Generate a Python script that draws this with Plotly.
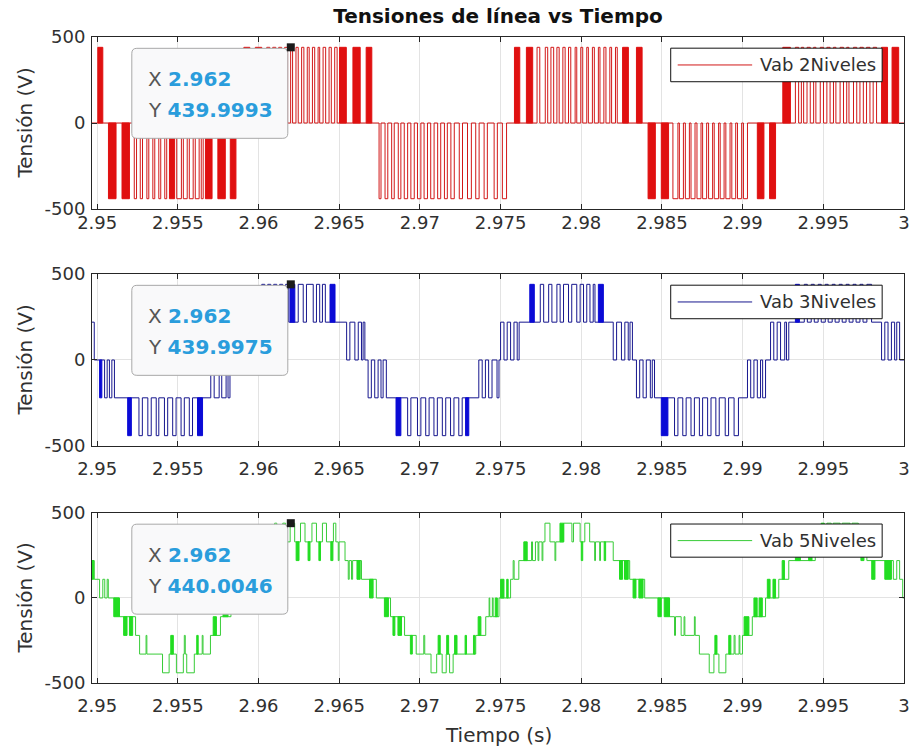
import plotly.graph_objects as go

# ---------------------------------------------------------------------------
# Data: line-to-line voltage Vab of three inverters, 2.9497 s .. 3.0 s
# Edge times are given in milliseconds after T0_S; voltages in volts.
# ---------------------------------------------------------------------------
T0_S = 2.95
SPAN_MS = (-0.32, 50.0)

# Vab 2Niveles: single pulses from 0 V -> (on_ms, off_ms, V)
vab2_start_v = 0
vab2_pulses = [
    (2.30, 2.44, -440), (2.67, 2.81, -440), (3.08, 3.20, -440), (3.45, 3.57, -440),
    (3.82, 3.94, -440), (4.19, 4.31, -440), (4.93, 5.22, -440), (5.34, 5.58, -440),
    (5.71, 5.95, -440), (6.08, 6.32, -440), (6.45, 6.57, -440),
    (10.51, 10.70, 440), (10.88, 11.07, 440), (11.25, 11.43, 440), (11.62, 11.80, 440),
    (11.99, 12.11, 440), (12.32, 12.46, 440), (12.67, 12.81, 440), (13.02, 13.14, 440),
    (13.34, 13.48, 440), (13.69, 13.79, 440), (14.00, 14.16, 440), (14.37, 14.51, 440),
    (14.72, 14.87, 440),
    (17.47, 17.59, -440), (17.84, 18.01, -440), (18.25, 18.41, -440), (18.66, 18.82, -440),
    (19.03, 19.24, -440), (19.44, 19.65, -440), (19.85, 20.06, -440), (20.26, 20.47, -440),
    (20.67, 20.88, -440), (21.10, 21.29, -440), (21.52, 21.70, -440), (21.92, 22.13, -440),
    (22.44, 22.64, -440), (22.95, 23.19, -440), (23.46, 23.67, -440), (23.98, 24.18, -440),
    (24.60, 24.80, -440), (25.11, 25.37, -440),
    (27.26, 27.43, 440), (27.77, 27.92, 440), (28.12, 28.29, 440), (28.49, 28.63, 440),
    (28.86, 29.00, 440), (29.21, 29.35, 440), (29.62, 29.72, 440), (29.97, 30.09, 440),
    (30.34, 30.44, 440), (30.69, 30.81, 440), (31.06, 31.16, 440), (31.40, 31.53, 440),
    (31.77, 31.88, 440), (32.12, 32.23, 440),
    (35.68, 35.99, -440), (36.08, 36.33, -440), (36.45, 36.70, -440), (36.80, 37.05, -440),
    (37.17, 37.42, -440), (37.52, 37.77, -440), (37.89, 38.14, -440), (38.24, 38.51, -440),
    (38.61, 38.85, -440), (38.96, 39.22, -440), (39.33, 39.57, -440), (39.68, 39.94, -440),
    (40.05, 40.30, -440),
    (43.27, 43.47, 440), (43.64, 43.78, 440), (43.99, 44.19, 440), (44.40, 44.54, 440),
    (44.81, 45.01, 440), (45.22, 45.42, 440), (45.63, 45.78, 440), (46.04, 46.25, 440),
    (46.45, 46.59, 440), (46.87, 47.07, 440), (47.27, 47.48, 440), (47.68, 47.89, 440),
    (48.09, 48.30, 440),
]
# dense switching bursts (too fast to resolve): (on_ms, off_ms, V), base 0 V
vab2_bursts = [
    (0.04, 0.35, 440), (0.70, 1.17, -440), (1.54, 2.00, -440), (4.48, 4.80, -440),
    (6.71, 7.12, -440), (7.48, 7.94, -440), (8.25, 8.60, -440), (9.09, 9.46, 440),
    (9.80, 10.20, 440), (15.02, 15.44, 440), (15.85, 16.30, 440), (16.67, 17.02, 440),
    (25.86, 26.19, 440), (26.60, 26.99, 440), (32.56, 32.92, 440), (33.42, 33.77, 440),
    (34.14, 34.59, -440), (34.96, 35.41, -440), (40.91, 41.32, -440), (41.67, 42.04, -440),
    (42.49, 42.96, 440), (48.61, 48.98, 440), (49.26, 49.67, 440),
]

# Vab 3Niveles: (edge_ms, level after edge in V)
vab3_start_v = 220
vab3_steps = [
    (-0.18, 0),
    (0.46, -220), (0.62, 0), (0.76, -220), (0.91, 0), (1.07, -220),
    (2.59, -440), (2.80, -220), (3.14, -440), (3.35, -220), (3.66, -440), (3.82, -220),
    (4.17, -440), (4.37, -220), (4.68, -440), (4.89, -220), (5.20, -440), (5.40, -220),
    (5.71, -440), (5.91, -220),
    (7.04, 0), (7.25, -220), (7.56, 0), (7.72, -220), (7.99, 0), (8.11, -220), (8.23, 0),
    (8.97, 220), (9.16, 0), (9.34, 220), (9.53, 0), (9.71, 220), (9.83, 0), (9.90, 220),
    (10.20, 440), (10.39, 220), (10.57, 440), (10.76, 220), (10.94, 440), (11.13, 220),
    (11.31, 440), (11.50, 220), (11.68, 440), (11.87, 220),
    (12.46, 440), (12.77, 220), (12.97, 440), (13.39, 220), (13.59, 440), (13.79, 220),
    (13.96, 440), (14.14, 220),
    (15.46, 0), (15.66, 220), (15.97, 0), (16.18, 220), (16.38, 0), (16.48, 220), (16.59, 0),
    (16.79, -220), (16.99, 0), (17.20, -220), (17.41, 0), (17.59, -220), (17.72, 0),
    (17.92, -220),
    (19.24, -440), (19.44, -220), (19.85, -440), (20.06, -220), (20.36, -440), (20.57, -220),
    (20.87, -440), (21.08, -220), (21.39, -440), (21.60, -220), (21.90, -440), (22.11, -220),
    (22.41, -440), (22.62, -220),
    (23.65, 0), (23.86, -220), (24.06, 0), (24.26, -220), (24.47, 0), (24.78, -220), (24.90, 0),
    (25.00, 220), (25.21, 0), (25.41, 220), (25.62, 0), (25.83, 220), (26.03, 0), (26.15, 220),
    (27.46, 440), (27.67, 220), (27.98, 440), (28.18, 220), (28.49, 440), (28.69, 220),
    (28.90, 440), (29.21, 220), (29.41, 440), (29.72, 220), (29.93, 440), (30.14, 220),
    (30.34, 440), (30.54, 220), (30.74, 440), (30.85, 220),
    (31.98, 0), (32.19, 220), (32.49, 0), (32.70, 220), (32.91, 0), (33.02, 220), (33.17, 0),
    (33.42, -220), (33.62, 0), (33.83, -220), (34.03, 0), (34.28, -220), (34.40, 0),
    (34.54, -220),
    (35.78, -440), (35.99, -220), (36.29, -440), (36.50, -220), (36.80, -440), (37.01, -220),
    (37.32, -440), (37.52, -220), (37.83, -440), (38.04, -220), (38.34, -440), (38.55, -220),
    (38.92, -440), (39.13, -220), (39.47, -440), (39.74, -220),
    (40.30, 0), (40.50, -220), (40.70, 0), (40.91, -220), (41.11, 0), (41.24, -220), (41.42, 0),
    (41.73, 220), (41.93, 0), (42.14, 220), (42.35, 0), (42.61, 220), (42.72, 0), (42.86, 220),
    (43.82, 440), (44.01, 220), (44.25, 440), (44.44, 220), (44.68, 440), (44.87, 220),
    (45.12, 440), (45.30, 220), (45.55, 440), (45.73, 220), (45.98, 440), (46.17, 220),
    (46.41, 440), (46.60, 220), (46.84, 440), (47.03, 220), (47.27, 440), (47.46, 220),
    (47.70, 440), (47.99, 220),
    (48.61, 0), (48.81, 220), (49.01, 0), (49.22, 220), (49.42, 0), (49.55, 220), (49.73, 0),
]
# (on_ms, off_ms, low V, high V)
vab3_bursts = [
    (0.15, 0.29, -220, 0), (1.89, 2.12, -440, -220), (6.22, 6.53, -440, -220),
    (11.95, 12.25, 220, 440), (14.43, 14.74, 220, 440), (18.52, 18.82, -440, -220),
    (22.83, 23.03, -440, -220), (26.81, 27.09, 220, 440), (31.06, 31.37, 220, 440),
    (34.96, 35.37, -440, -220), (43.27, 43.52, 220, 440),
]

# Vab 5Niveles: (edge_ms, level after edge in V)
vab5_start_v = 220
vab5_steps = [
    (-0.18, 110), (0.15, 0), (0.35, 110), (0.47, 0), (0.62, 110), (0.69, 0), (1.38, -110),
    (2.38, -220), (2.63, -330), (3.03, -220), (3.08, -330), (4.05, -440), (4.46, -330),
    (4.91, -440), (5.34, -330), (5.40, -220), (5.46, -330), (5.55, -440), (6.02, -330),
    (6.51, -220), (6.56, -330), (7.02, -220), (7.64, -110), (8.29, 0), (9.09, 110),
    (9.83, 220), (10.63, 330), (11.00, 440), (11.13, 330), (11.50, 440), (11.68, 330),
    (11.96, 440), (12.24, 330), (12.60, 440), (12.88, 330), (13.31, 440), (13.59, 330),
    (13.96, 440), (14.21, 330), (14.64, 440), (14.79, 330), (14.94, 220), (14.99, 330),
    (15.36, 220), (15.56, 110), (15.62, 220), (15.76, 110), (15.83, 220), (16.38, 110),
    (17.30, 0), (18.18, -110), (19.05, -220), (19.77, -330), (20.24, -220), (20.30, -330),
    (20.69, -440), (21.04, -330), (21.38, -440), (21.63, -330), (21.84, -440), (22.06, -330),
    (23.46, -220), (24.08, -110), (24.29, 0), (24.33, -110), (24.49, 0), (24.54, -110),
    (24.90, 0), (25.62, 110), (25.78, 220), (25.84, 110), (26.13, 220), (26.92, 330),
    (26.98, 220), (27.16, 330), (27.32, 220), (27.37, 330), (27.57, 220), (27.62, 330),
    (27.75, 440), (28.06, 330), (28.37, 220), (28.42, 330), (28.91, 440), (29.42, 330),
    (29.52, 440), (29.93, 330), (30.22, 440), (30.52, 330), (30.83, 220), (30.88, 330),
    (31.14, 220), (31.19, 330), (31.98, 220), (33.00, 110), (33.93, 0), (35.47, -110),
    (35.78, -220), (35.84, -110), (36.19, -220), (36.37, -110), (36.42, -220), (37.01, -110),
    (37.06, -220), (37.32, -330), (37.93, -440), (38.22, -330), (38.53, -440), (38.96, -330),
    (39.47, -220), (39.53, -330), (39.78, -220), (39.83, -330), (39.99, -220), (40.60, -110),
    (41.42, 0), (42.24, 110), (42.86, 220), (44.50, 330), (45.22, 440), (45.49, 330),
    (45.61, 440), (46.04, 330), (46.17, 440), (46.66, 330), (46.78, 440), (47.17, 330),
    (47.70, 220), (49.34, 110), (49.55, 220), (49.73, 110), (49.92, 0),
]
vab5_bursts = [
    (-0.32, -0.22, 110, 220), (1.03, 1.38, -110, 0), (1.64, 1.85, -220, -110),
    (2.00, 2.20, -220, -110), (4.56, 4.72, -330, -220), (6.17, 6.26, -330, -220),
    (7.19, 7.39, -220, -110), (7.80, 8.11, -110, 0), (8.66, 8.85, 0, 110),
    (9.40, 9.59, 110, 220), (10.14, 10.33, 220, 330), (12.33, 12.51, 220, 330),
    (13.07, 13.19, 220, 330), (13.74, 13.84, 220, 330), (14.48, 14.61, 220, 330),
    (16.10, 16.30, 110, 220), (16.88, 17.10, 0, 110), (17.80, 18.05, -110, 0),
    (18.33, 18.45, -220, -110), (18.64, 18.86, -220, -110), (19.41, 19.53, -330, -220),
    (21.13, 21.26, -330, -220), (21.66, 21.78, -330, -220), (22.15, 22.30, -330, -220),
    (22.80, 22.89, -330, -220), (23.32, 23.41, -330, -220), (23.61, 23.78, -220, -110),
    (24.67, 24.80, -110, 0), (25.00, 25.21, 0, 110), (25.38, 25.47, 0, 110),
    (26.44, 26.65, 220, 330), (28.68, 28.91, 330, 440), (30.00, 30.09, 220, 330),
    (31.42, 31.51, 220, 330), (32.37, 32.56, 110, 220), (32.68, 32.91, 110, 220),
    (33.21, 33.39, 0, 110), (33.57, 33.83, 0, 110), (34.75, 34.96, -110, 0),
    (35.14, 35.47, -110, 0), (38.28, 38.41, -330, -220), (39.14, 39.27, -330, -220),
    (40.09, 40.39, -220, -110), (40.70, 40.90, -110, 0), (41.02, 41.22, -110, 0),
    (41.53, 41.70, 0, 110), (41.88, 42.04, 0, 110), (42.45, 42.59, 110, 220),
    (43.27, 43.58, 220, 330), (44.09, 44.30, 220, 330), (44.87, 45.06, 330, 440),
    (47.33, 47.52, 220, 330), (48.00, 48.20, 110, 220), (48.81, 49.22, 110, 220),
]

series_names = ["Vab 2Niveles", "Vab 3Niveles", "Vab 5Niveles"]
x_tick_vals = [2.95, 2.955, 2.96, 2.965, 2.97, 2.975, 2.98, 2.985, 2.99, 2.995, 3.0]
x_tick_text = ["2.95", "2.955", "2.96", "2.965", "2.97", "2.975", "2.98", "2.985",
               "2.99", "2.995", "3"]
y_tick_vals = [-500, 0, 500]
y_tick_text = ["-500", "0", "500"]
tip_x = 2.962
tip_y = [439.9993, 439.9975, 440.0046]

# ---------------------------------------------------------------------------
# Helpers
# ---------------------------------------------------------------------------
def sec(ms):
    return T0_S + ms / 1000.0


def pulses_to_steps(pulses, base):
    steps = []
    for on, off, v in pulses:
        steps.append((on, v))
        steps.append((off, base))
    return steps


def step_xy(start_v, steps):
    xs = [sec(SPAN_MS[0])]
    ys = [start_v]
    for ms, v in steps:
        xs.append(sec(ms))
        ys.append(v)
    xs.append(sec(SPAN_MS[1]))
    ys.append(ys[-1])
    return xs, ys


def burst_xy(bursts):
    xs, ys = [], []
    for on, off, lo, hi in bursts:
        xs += [sec(on), sec(on), sec(off), sec(off), sec(on), None]
        ys += [lo, hi, hi, lo, lo, None]
    return xs, ys


# ---------------------------------------------------------------------------
# Styling
# ---------------------------------------------------------------------------
FONT = "DejaVu Sans"
INK = "#303030"
line_colors = ["#d21818", "#16168e", "#38cc38"]
burst_colors = ["#e01010", "#0b0bd6", "#22dd22"]

# plot-area rows (paper fractions, bottom..top)
row_domains = [[0.7337, 1.0], [0.3669, 0.6331], [0.0, 0.2632]]

series = [
    (vab2_start_v, pulses_to_steps(vab2_pulses, 0),
     [(a, b, min(0, v), max(0, v)) for a, b, v in vab2_bursts]),
    (vab3_start_v, vab3_steps, vab3_bursts),
    (vab5_start_v, vab5_steps, vab5_bursts),
]

fig = go.Figure()
for i, (start_v, steps, bursts) in enumerate(series):
    n = "" if i == 0 else str(i + 1)
    xs, ys = step_xy(start_v, steps)
    fig.add_trace(go.Scatter(
        x=xs, y=ys, mode="lines", line=dict(color=line_colors[i], width=1, shape="hv"),
        name=series_names[i], showlegend=False, hoverinfo="skip",
        xaxis="x" + n, yaxis="y" + n))
    bx, by = burst_xy(bursts)
    fig.add_trace(go.Scatter(
        x=bx, y=by, mode="lines", fill="toself", fillcolor=burst_colors[i],
        line=dict(color=burst_colors[i], width=1), showlegend=False, hoverinfo="skip",
        xaxis="x" + n, yaxis="y" + n))

axis_common = dict(
    showline=True, linecolor="#262626", linewidth=1, mirror="ticks",
    ticks="inside", ticklen=5, tickcolor="#262626", tickwidth=1,
    showgrid=True, gridcolor="#e3e3e3", gridwidth=1, zeroline=False,
    tickfont=dict(family=FONT, size=18, color=INK),
)

layout = dict(
    width=919, height=748,
    margin=dict(l=92, r=9, t=37, b=65),
    paper_bgcolor="white", plot_bgcolor="white",
    showlegend=False, hovermode=False,
    title=dict(text="<b>Tensiones de línea vs Tiempo</b>", x=0.5, xref="paper",
               xanchor="center", y=1 - 16 / 748, yref="container", yanchor="middle",
               font=dict(family=FONT, size=20, color="#111111")),
)

x_standoff = [-3, 6, 6]
for i in range(3):
    n = "" if i == 0 else str(i + 1)
    layout["xaxis" + n] = dict(
        axis_common, domain=[0, 1], anchor="y" + n,
        range=[sec(SPAN_MS[0]), sec(SPAN_MS[1])],
        tickmode="array", tickvals=x_tick_vals, ticktext=x_tick_text,
        ticklabelstandoff=x_standoff[i])
    layout["yaxis" + n] = dict(
        axis_common, domain=row_domains[i], anchor="x" + n, range=[-500, 500],
        tickmode="array", tickvals=y_tick_vals, ticktext=y_tick_text,
        ticklabelstandoff=2)

fig.update_layout(**layout)

shapes = []
annotations = []

# datatip: rounded box to the lower-left of the tip point (pixel offsets)
bx0, bx1, btop, bbot, r = -159, -3, -1, -91, 5
tip_path = (
    f"M {bx0 + r},{btop} L {bx1 - r},{btop} Q {bx1},{btop} {bx1},{btop - r} "
    f"L {bx1},{bbot + r} Q {bx1},{bbot} {bx1 - r},{bbot} "
    f"L {bx0 + r},{bbot} Q {bx0},{bbot} {bx0},{bbot + r} "
    f"L {bx0},{btop - r} Q {bx0},{btop} {bx0 + r},{btop} Z"
)

for i in range(3):
    n = "" if i == 0 else str(i + 1)
    xr, yr = "x" + n, "y" + n
    shapes.append(dict(type="path", xref=xr, yref=yr, xsizemode="pixel",
                       ysizemode="pixel", xanchor=tip_x, yanchor=tip_y[i],
                       path=tip_path, fillcolor="#f9f9fa",
                       line=dict(color="#a8a8a8", width=1), layer="above"))
    shapes.append(dict(type="rect", xref=xr, yref=yr, xsizemode="pixel",
                       ysizemode="pixel", xanchor=tip_x, yanchor=tip_y[i],
                       x0=-4, x1=4, y0=-4, y1=4, fillcolor="#1a1a1a",
                       line=dict(width=0), layer="above"))
    annotations.append(dict(
        xref=xr, yref=yr, x=tip_x, y=tip_y[i], xshift=-145, yshift=-32,
        xanchor="left", yanchor="middle", showarrow=False,
        text=f"<span style='color:#555555'>X</span> "
             f"<b><span style='color:#2a9ddc'>{tip_x:g}</span></b>",
        font=dict(family=FONT, size=20)))
    annotations.append(dict(
        xref=xr, yref=yr, x=tip_x, y=tip_y[i], xshift=-145, yshift=-63,
        xanchor="left", yanchor="middle", showarrow=False,
        text=f"<span style='color:#555555'>Y</span> "
             f"<b><span style='color:#2a9ddc'>{tip_y[i]:.4f}</span></b>",
        font=dict(family=FONT, size=20)))

    # legend box
    xd, yd = xr + " domain", yr + " domain"
    shapes.append(dict(type="rect", xref=xd, yref=yd, x0=0.7127, x1=0.9731,
                       y0=0.74, y1=0.935, fillcolor="white",
                       line=dict(color="#111111", width=1), layer="above"))
    shapes.append(dict(type="line", xref=xd, yref=yd, x0=0.7213, x1=0.8130,
                       y0=0.8375, y1=0.8375,
                       line=dict(color=line_colors[i], width=1), layer="above"))
    annotations.append(dict(xref=xd, yref=yd, x=0.8203, y=0.8375, xanchor="left",
                            yanchor="middle", showarrow=False, text=series_names[i],
                            font=dict(family=FONT, size=18, color=INK)))

    # y-axis title
    annotations.append(dict(xref="paper", yref=yd, x=-0.0831, y=0.5,
                            xanchor="center", yanchor="middle", textangle=-90,
                            showarrow=False, text="Tensión (V)",
                            font=dict(family=FONT, size=20, color=INK)))

annotations.append(dict(xref="paper", yref="paper", x=0.5, y=-0.0805,
                        xanchor="center", yanchor="middle", showarrow=False,
                        text="Tiempo (s)", font=dict(family=FONT, size=20, color=INK)))

fig.update_layout(shapes=shapes, annotations=annotations)
fig.write_html("out.html", config={"displayModeBar": False})
